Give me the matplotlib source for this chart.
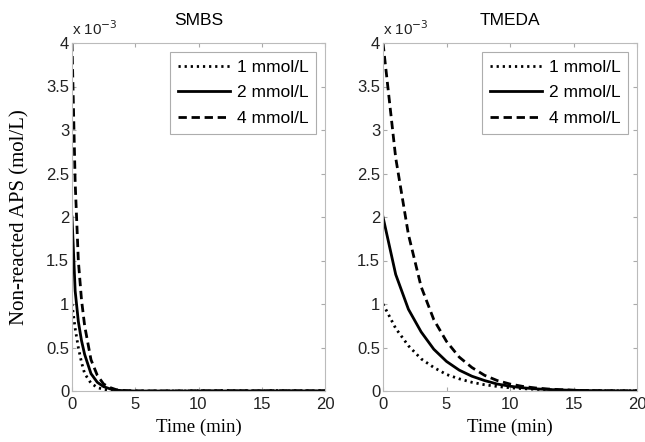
import matplotlib
matplotlib.use("Agg")
import matplotlib.pyplot as plt

# ---- data (values in units of 1e-3 mol/L) ----
t_smbs = [0, 0.25, 0.5, 0.75, 1, 1.5, 2, 2.5, 3, 3.5, 4, 5, 6, 7, 8, 9, 10, 11, 12,
          13, 14, 15, 16, 17, 18, 19, 20]
smbs_1 = [1.0, 0.72, 0.5, 0.33, 0.2, 0.09, 0.04, 0.018, 0.008, 0.003, 0.001, 0, 0, 0, 0, 0,
          0.004, 0, 0.005, 0, 0.004, 0, 0.006, 0, 0.005, 0, 0.006]
smbs_2 = [2.0, 1.15, 0.8, 0.58, 0.42, 0.2, 0.1, 0.05, 0.025, 0.01, 0.004, 0, 0, 0, 0, 0,
          0, 0.003, 0, 0.004, 0, 0.003, 0, 0.004, 0, 0.003, 0]
smbs_4 = [4.0, 2.4, 1.5, 1.05, 0.75, 0.36, 0.18, 0.08, 0.04, 0.015, 0.005, 0, 0, 0, 0, 0,
          0.003, 0, 0.004, 0, 0.003, 0, 0.004, 0, 0.003, 0, 0.004]

t_tmeda = [0, 1, 2, 3, 4, 5, 6, 7, 8, 9, 10, 11, 12, 13, 14, 15, 16, 17, 18, 19, 20]
tmeda_1 = [1.0, 0.72, 0.52, 0.37, 0.27, 0.19, 0.14, 0.10, 0.072, 0.052, 0.037, 0.027,
           0.019, 0.014, 0.010, 0.007, 0.005, 0.004, 0.003, 0.002, 0.002]
tmeda_2 = [2.0, 1.34, 0.94, 0.68, 0.48, 0.34, 0.24, 0.17, 0.12, 0.08, 0.055, 0.037,
           0.025, 0.017, 0.012, 0.008, 0.005, 0.003, 0.002, 0.002, 0.001]
tmeda_4 = [4.0, 2.68, 1.8, 1.2, 0.82, 0.57, 0.39, 0.27, 0.18, 0.12, 0.08, 0.053,
           0.035, 0.023, 0.015, 0.009, 0.005, 0.003, 0.002, 0.001, 0.001]

labels = ["1 mmol/L", "2 mmol/L", "4 mmol/L"]
titles = ["SMBS", "TMEDA"]
xticks = [0, 5, 10, 15, 20]
yticks = [0, 0.5, 1, 1.5, 2, 2.5, 3, 3.5, 4]
ytick_labels = ["0", "0.5", "1", "1.5", "2", "2.5", "3", "3.5", "4"]

sans = ["Liberation Sans", "DejaVu Sans"]
serif = ["Liberation Serif", "DejaVu Serif"]

fig = plt.figure(figsize=(6.45, 4.42), dpi=100)
ax1 = fig.add_axes([72 / 645, 51 / 442, 253 / 645, 348 / 442])
ax2 = fig.add_axes([383 / 645, 51 / 442, 254 / 645, 348 / 442])

styles = [dict(linestyle=(0, (0.8, 1.4)), lw=2.0),
          dict(linestyle="-", lw=2.0),
          dict(linestyle=(0, (3.0, 1.7)), lw=2.0)]

datasets = [(t_smbs, [smbs_1, smbs_2, smbs_4]), (t_tmeda, [tmeda_1, tmeda_2, tmeda_4])]

for ax, (tt, series), title in zip([ax1, ax2], datasets, titles):
    for ys, lab, st in zip(series, labels, styles):
        ax.plot(tt, ys, color="black", label=lab, **st)
    ax.set_xlim(0, 20)
    ax.set_ylim(0, 4)
    ax.set_xticks(xticks)
    ax.set_yticks(yticks)
    ax.set_xticklabels([str(v) for v in xticks], fontfamily=sans, fontsize=12)
    ax.set_yticklabels(ytick_labels, fontfamily=sans, fontsize=12)
    ax.tick_params(direction="in", length=3, color="#aaaaaa", top=True, right=True,
                   labelcolor="#222222", pad=2)
    ax.tick_params(axis="x", pad=4)
    for sp in ax.spines.values():
        sp.set_color("#bbbbbb")
        sp.set_linewidth(0.8)
    ax.set_xlabel("Time (min)", fontfamily=serif, fontsize=13.5, labelpad=5)
    ax.set_title(title, fontfamily=sans, fontsize=12.5, pad=13)
    leg = ax.legend(loc="upper right", prop={"family": sans, "size": 12.5},
                    handlelength=3.0, fancybox=False, borderaxespad=0.5,
                    labelspacing=0.6, handletextpad=0.4, borderpad=0.45)
    leg.get_frame().set_edgecolor("#999999")
    leg.get_frame().set_linewidth(0.8)
    ax.text(0.0, 1.015, r"x 10$^{-3}$", transform=ax.transAxes, fontfamily=sans,
            fontsize=11, ha="left", va="bottom", color="#222222")

ax1.set_ylabel("Non-reacted APS (mol/L)", fontfamily=serif, fontsize=15, va="center")
ax1.yaxis.set_label_coords(-52 / 253, 0.5)

fig.savefig("out.png", dpi=100)
